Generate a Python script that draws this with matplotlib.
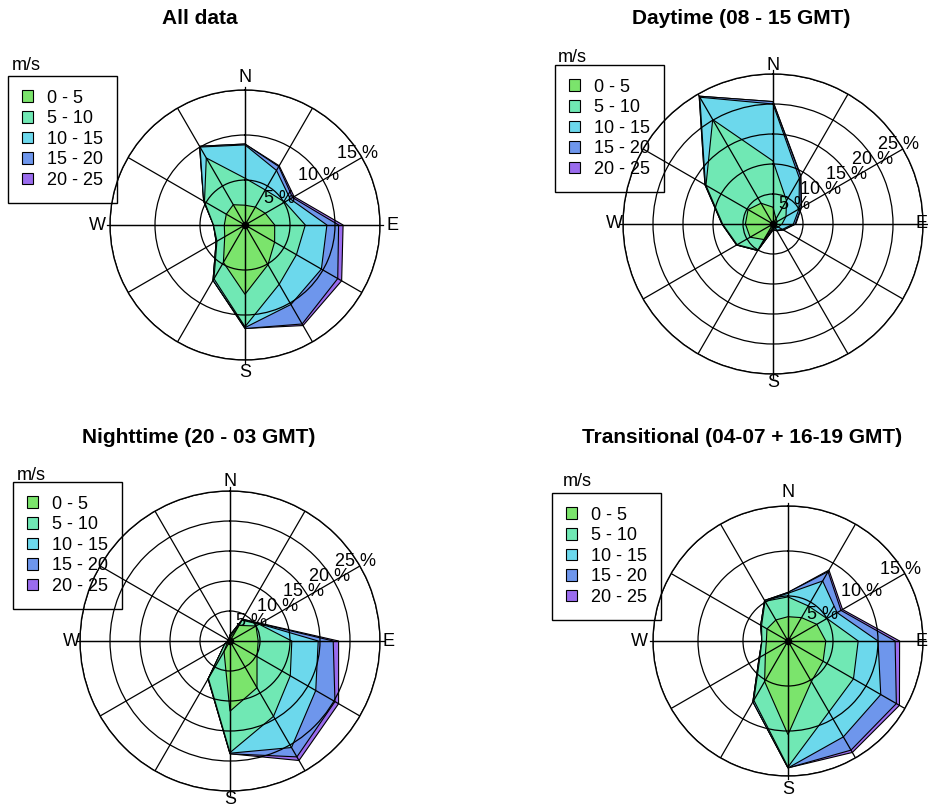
import numpy as np
import matplotlib
matplotlib.use('Agg')
import matplotlib.pyplot as plt
from matplotlib.patches import Patch

plt.rcParams['font.family'] = ['Liberation Sans', 'DejaVu Sans']

# ---------------- data ----------------
directions = [0, 30, 60, 90, 120, 150, 180, 210, 240, 270, 300, 330]
speed_bins = ['0 - 5', '5 - 10', '10 - 15', '15 - 20', '20 - 25']
bin_colors = ['#7be46c', '#70e8b4', '#6cd8ec', '#6e96ec', '#9a6cee']

# frequency (%) per direction for each speed bin
all_0_5 = [2.2, 2.3, 2.6, 3.3, 3.8, 5.1, 7.7, 4.8, 2.6, 2.3, 2.4, 2.6]
all_5_10 = [3.0, 2.2, 2.5, 3.4, 2.8, 2.5, 3.6, 2.1, 1.0, 1.2, 2.8, 6.0]
all_10_15 = [3.7, 2.5, 0.7, 2.4, 3.2, 2.6, 0.1, 0.2, 0.1, 0.0, 0.1, 1.4]
all_15_20 = [0.1, 0.5, 0.3, 1.3, 2.1, 2.5, 0.1, 0.0, 0.0, 0.0, 0.0, 0.1]
all_20_25 = [0.0, 0.1, 0.2, 0.5, 0.5, 0.2, 0.0, 0.0, 0.0, 0.0, 0.0, 0.0]

day_0_5 = [2.8, 1.0, 0.8, 0.6, 0.5, 0.5, 0.5, 3.0, 4.4, 4.6, 4.8, 4.0]
day_5_10 = [7.7, 3.5, 1.7, 0.9, 0.5, 0.3, 0.2, 2.0, 2.5, 3.8, 8.1, 16.1]
day_10_15 = [9.5, 4.3, 2.5, 1.9, 0.8, 0.4, 0.2, 0.1, 0.1, 0.1, 0.1, 4.3]
day_15_20 = [0.4, 0.4, 0.4, 0.3, 0.2, 0.1, 0.1, 0.0, 0.0, 0.0, 0.1, 0.2]
day_20_25 = [0.0, 0.1, 0.1, 0.1, 0.0, 0.0, 0.0, 0.0, 0.0, 0.0, 0.0, 0.0]

night_0_5 = [0.6, 3.0, 5.0, 4.7, 5.2, 9.0, 11.7, 2.0, 0.5, 0.2, 0.2, 0.2]
night_5_10 = [0.3, 1.0, 0.6, 5.6, 6.4, 5.5, 6.9, 5.2, 0.5, 0.1, 0.1, 0.1]
night_10_15 = [0.1, 0.1, 0.1, 4.4, 4.9, 6.0, 0.1, 0.1, 0.0, 0.0, 0.0, 0.0]
night_15_20 = [0.0, 0.1, 0.1, 2.5, 3.7, 1.8, 0.1, 0.0, 0.0, 0.0, 0.0, 0.0]
night_20_25 = [0.0, 0.0, 0.1, 0.9, 0.7, 0.7, 0.0, 0.0, 0.0, 0.0, 0.0, 0.0]

tr_0_5 = [2.7, 3.0, 3.7, 4.2, 4.5, 5.2, 10.4, 5.2, 2.9, 2.4, 2.7, 2.7]
tr_5_10 = [2.2, 1.5, 1.3, 3.6, 3.9, 3.9, 3.6, 2.4, 0.7, 0.5, 0.7, 2.4]
tr_10_15 = [0.4, 3.2, 1.3, 2.2, 3.5, 3.2, 0.1, 0.2, 0.1, 0.0, 0.1, 0.1]
tr_15_20 = [0.1, 1.2, 0.5, 1.9, 2.0, 1.7, 0.0, 0.0, 0.0, 0.0, 0.0, 0.0]
tr_20_25 = [0.0, 0.2, 0.2, 0.5, 0.4, 0.3, 0.0, 0.0, 0.0, 0.0, 0.0, 0.0]

titles = ['All data', 'Daytime (08 - 15 GMT)', 'Nighttime (20 - 03 GMT)',
          'Transitional (04-07 + 16-19 GMT)']
ring_sets = [[5, 10, 15], [5, 10, 15, 20, 25], [5, 10, 15, 20, 25], [5, 10, 15]]

# ---------------- layout (pixels) ----------------
W, H = 929, 808
panels = [
    dict(data=[all_0_5, all_5_10, all_10_15, all_15_20, all_20_25],
         cx=245, cy=225, R=135, labf=1.095, tpos=(200, 18), leg=(8, 76), ms=(12, 66)),
    dict(data=[day_0_5, day_5_10, day_10_15, day_15_20, day_20_25],
         cx=773, cy=224, R=150, labf=1.055, tpos=(741, 18), leg=(555, 65), ms=(558, 58)),
    dict(data=[night_0_5, night_5_10, night_10_15, night_15_20, night_20_25],
         cx=230, cy=641, R=150, labf=1.06, tpos=(199, 437), leg=(13, 482), ms=(17, 475)),
    dict(data=[tr_0_5, tr_5_10, tr_10_15, tr_15_20, tr_20_25],
         cx=788, cy=641, R=135, labf=1.1, tpos=(742, 437), leg=(552, 493), ms=(563, 482)),
]

fig = plt.figure(figsize=(W / 100, H / 100), dpi=100)
fig.patch.set_facecolor('white')

theta = np.deg2rad(directions)
theta_c = np.append(theta, theta[0])

for p, title, rings in zip(panels, titles, ring_sets):
    cx, cy, R = p['cx'], p['cy'], p['R']
    rmax = rings[-1]
    ax = fig.add_axes([(cx - R) / W, 1 - (cy + R) / H, 2 * R / W, 2 * R / H],
                      projection='polar')
    ax.set_zorder(1)
    ax.set_facecolor('none')
    ax.set_theta_zero_location('N')
    ax.set_theta_direction(-1)

    cum = np.cumsum(np.array(p['data']), axis=0)
    for i in range(len(speed_bins) - 1, -1, -1):
        vals = np.append(cum[i], cum[i][0])
        ax.fill(theta_c, vals, facecolor=bin_colors[i], edgecolor='black',
                linewidth=0.8, zorder=1)

    ax.set_ylim(0, rmax)
    ax.set_thetagrids(directions, labels=[''] * len(directions))
    ax.set_rgrids(rings, labels=[''] * len(rings))
    ax.grid(True, color='black', linewidth=0.9, linestyle='-')
    ax.spines['polar'].set_color('black')
    ax.spines['polar'].set_linewidth(1.0)
    ax.tick_params(length=0)

    # main cross lines slightly past the outer circle
    for ang in [0, 90, 180, 270]:
        ax.plot([np.deg2rad(ang)] * 2, [0, rmax * 1.025], color='black',
                linewidth=0.9, clip_on=False, zorder=2)
    ax.plot([0], [0], 'o', color='black', markersize=4.5, zorder=3)

    for ang, lab in zip([0, 90, 180, 270], ['N', 'E', 'S', 'W']):
        if lab == 'E' and cx + R * p['labf'] + 6 > W:
            # keep the label inside the figure edge
            fig.text((W - 1) / W, 1 - cy / H, lab, ha='right', va='center',
                     fontsize=13, zorder=5)
            continue
        ax.text(np.deg2rad(ang), rmax * p['labf'], lab, ha='center', va='center',
                fontsize=13, clip_on=False)

    for r in rings:
        ax.annotate(f'{r} %', xy=(np.deg2rad(60), r), xytext=(-3, 3),
                    textcoords='offset points', ha='center', va='center',
                    fontsize=13, zorder=4)

    fig.text(p['tpos'][0] / W, 1 - p['tpos'][1] / H, title, ha='center',
             va='center', fontsize=15, fontweight='bold')

    handles = [Patch(facecolor=c, edgecolor='black', linewidth=0.8) for c in bin_colors]
    leg = fig.legend(handles, speed_bins, loc='upper left',
                     bbox_to_anchor=(p['leg'][0] / W, 1 - p['leg'][1] / H),
                     frameon=True, fancybox=False, edgecolor='black', framealpha=1,
                     fontsize=13, handlelength=0.62, handleheight=0.62,
                     handletextpad=0.8, labelspacing=0.2, borderpad=0.75,
                     borderaxespad=0)
    leg.get_frame().set_linewidth(1.0)
    leg.set_zorder(0)
    fig.text(p['ms'][0] / W, 1 - p['ms'][1] / H, 'm/s', ha='left', va='center',
             fontsize=13)

fig.savefig('out.png', dpi=100)
